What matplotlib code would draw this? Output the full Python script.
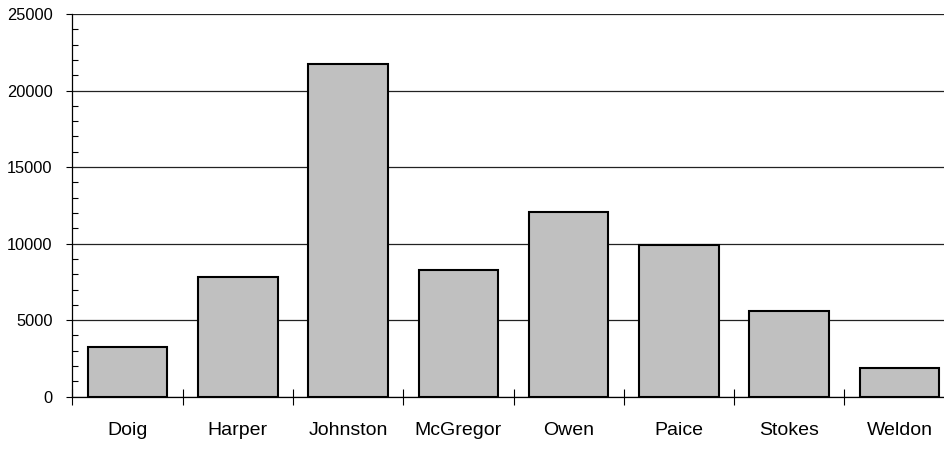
import matplotlib
matplotlib.use("Agg")
import matplotlib.pyplot as plt
import numpy as np
from matplotlib.ticker import FixedLocator

categories = ["Doig", "Harper", "Johnston", "McGregor", "Owen", "Paice", "Stokes", "Weldon"]
values = [3250, 7800, 21750, 8270, 12070, 9900, 5600, 1900]
y_ticks = [0, 5000, 10000, 15000, 20000, 25000]

plt.rcParams['font.family'] = ['Liberation Sans', 'DejaVu Sans']

fig = plt.figure(figsize=(9.45, 4.51), dpi=100)
ax = fig.add_axes([72.4/945, 54.3/451, (954.6-72.4)/945, (396.7-14.0)/451])

x = np.arange(len(categories))
ax.bar(x, values, width=0.72, color="#c0c0c0", edgecolor="black", linewidth=1.5, zorder=3)

ax.set_xlim(-0.5, len(categories) - 0.5)
ax.set_ylim(0, 25000)

ax.set_yticks(y_ticks)
ax.set_yticklabels([str(t) for t in y_ticks], fontsize=11.8)
ax.yaxis.set_minor_locator(FixedLocator([v for v in range(0, 25001, 1000) if v % 5000 != 0]))
ax.tick_params(axis='y', which='major', direction='out', length=4.3, width=0.8, pad=10)
ax.tick_params(axis='y', which='minor', direction='in', length=4, width=0.8)

ax.set_xticks(x)
ax.set_xticklabels(categories, fontsize=14)
ax.xaxis.set_minor_locator(FixedLocator(np.arange(-0.5, len(categories), 1.0)))
ax.tick_params(axis='x', which='major', length=0, pad=18)
ax.tick_params(axis='x', which='minor', direction='inout', length=11, width=0.8)

ax.grid(axis='y', which='major', color='#222222', linewidth=0.9, zorder=1)
ax.set_axisbelow(True)

for s in ['top', 'right']:
    ax.spines[s].set_visible(False)
ax.spines['left'].set_linewidth(0.9)
ax.spines['bottom'].set_linewidth(0.9)
ax.spines['bottom'].set_zorder(4)

fig.savefig("out.png", dpi=100)
